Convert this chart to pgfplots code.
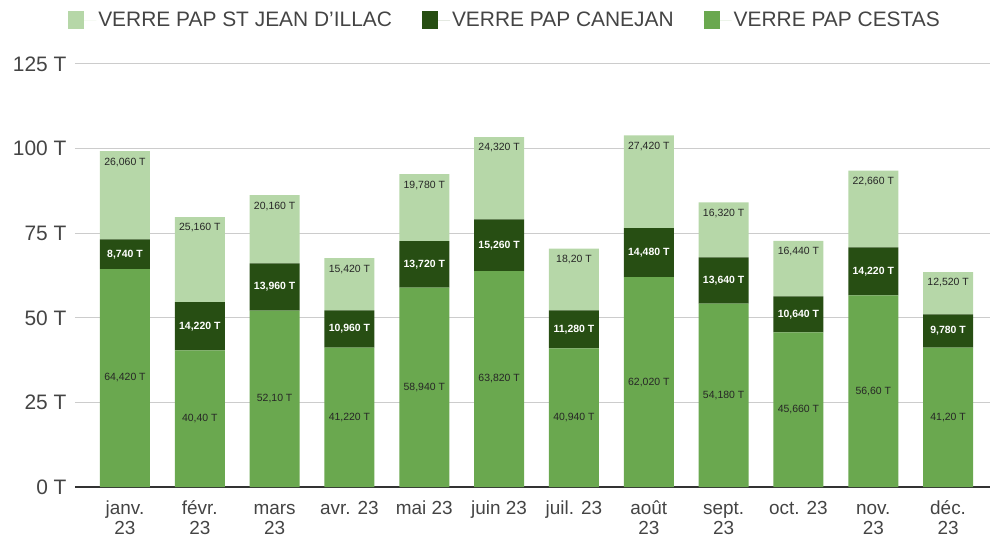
\documentclass[border=0pt]{standalone}
\usepackage{pgfplots}
\pgfplotsset{compat=1.18}
\usepackage{pgfplotstable}
\usepackage{fontspec}
\setmainfont{Liberation Sans}
\definecolor{clight}{HTML}{B6D7A8}
\definecolor{cdark}{HTML}{274E13}
\definecolor{cmid}{HTML}{6AA84F}
\definecolor{ctxt}{HTML}{444444}
\definecolor{cgrid}{HTML}{CCCCCC}
\pgfplotstableread{
x a la b lb c lc
0 64.42 64,420 8.74 8,740 26.06 26,060
1 40.40 40,40 14.22 14,220 25.16 25,160
2 52.10 52,10 13.96 13,960 20.16 20,160
3 41.22 41,220 10.96 10,960 15.42 15,420
4 58.94 58,940 13.72 13,720 19.78 19,780
5 63.82 63,820 15.26 15,260 24.32 24,320
6 40.94 40,940 11.28 11,280 18.20 18,20
7 62.02 62,020 14.48 14,480 27.42 27,420
8 54.18 54,180 13.64 13,640 16.32 16,320
9 45.66 45,660 10.64 10,640 16.44 16,440
10 56.60 56,60 14.22 14,220 22.66 22,660
11 41.20 41,20 9.78 9,780 12.52 12,520
}\data
\begin{document}
\begin{tikzpicture}
\useasboundingbox (-75bp,-50bp) rectangle (915bp,487bp);
\begin{axis}[
  scale only axis, width=915bp, height=423bp,
  xmin=-0.668, xmax=11.56, ymin=0, ymax=125,
  ybar stacked, bar width=50bp,
  xtick={0,...,11},
  xticklabels={{\strut janv.\\23},{\strut févr.\\23},{\strut mars\\23},{\strut avr. 23},{\strut mai 23},{\strut juin 23},{\strut juil. 23},{\strut août\\23},{\strut sept.\\23},{\strut oct. 23},{\strut nov.\\23},{\strut déc.\\23}},
  ytick={0,25,50,75,100,125},
  yticklabels={0 T,25 T,50 T,75 T,100 T,125 T},
  x tick label style={align=center, anchor=north, font=\fontsize{19}{20}\selectfont, text=ctxt, yshift=-10bp},
  y tick label style={font=\fontsize{21}{23}\selectfont, text=ctxt, xshift=-5bp},
  major tick length=0pt,
  ymajorgrids, grid style={cgrid, line width=1pt},
  axis x line*=bottom, axis y line*=left,
  x axis line style={draw=black!80, line width=1.3pt, -},
  y axis line style={draw=none},
  legend style={at={(0.47,1.104)}, anchor=center, draw=none, fill=none,
    legend columns=3, font=\fontsize{21}{23}\selectfont, text=ctxt,
    /tikz/every even column/.append style={column sep=28bp}},
  legend image code/.code={\fill[#1] (0bp,-9bp) rectangle (16bp,9bp); \path (0bp,0bp) -- (28bp,0bp);},
  reverse legend,
  point meta=explicit symbolic,
  nodes near coords={\pgfplotspointmeta~T},
]
\addplot[fill=cmid, draw=none,
  every node near coord/.append style={anchor=center, font=\fontsize{10.5}{12}\selectfont, text=black!85}]
  table[x=x,y=a,meta=la]{\data};
\addlegendentry{VERRE PAP CESTAS}
\addplot[fill=cdark, draw=none,
  every node near coord/.append style={anchor=center, font=\fontsize{10.5}{12}\selectfont\bfseries, text=white}]
  table[x=x,y=b,meta=lb]{\data};
\addlegendentry{VERRE PAP CANEJAN}
\addplot[fill=clight, draw=none,
  visualization depends on={\thisrow{c} \as \rawy},
  every node near coord/.append style={anchor=north, yshift=\rawy*1.692bp-3bp, font=\fontsize{10.5}{12}\selectfont, text=black!85}]
  table[x=x,y=c,meta=lc]{\data};
\addlegendentry{VERRE PAP ST JEAN D'ILLAC}
\end{axis}
\end{tikzpicture}
\end{document}
